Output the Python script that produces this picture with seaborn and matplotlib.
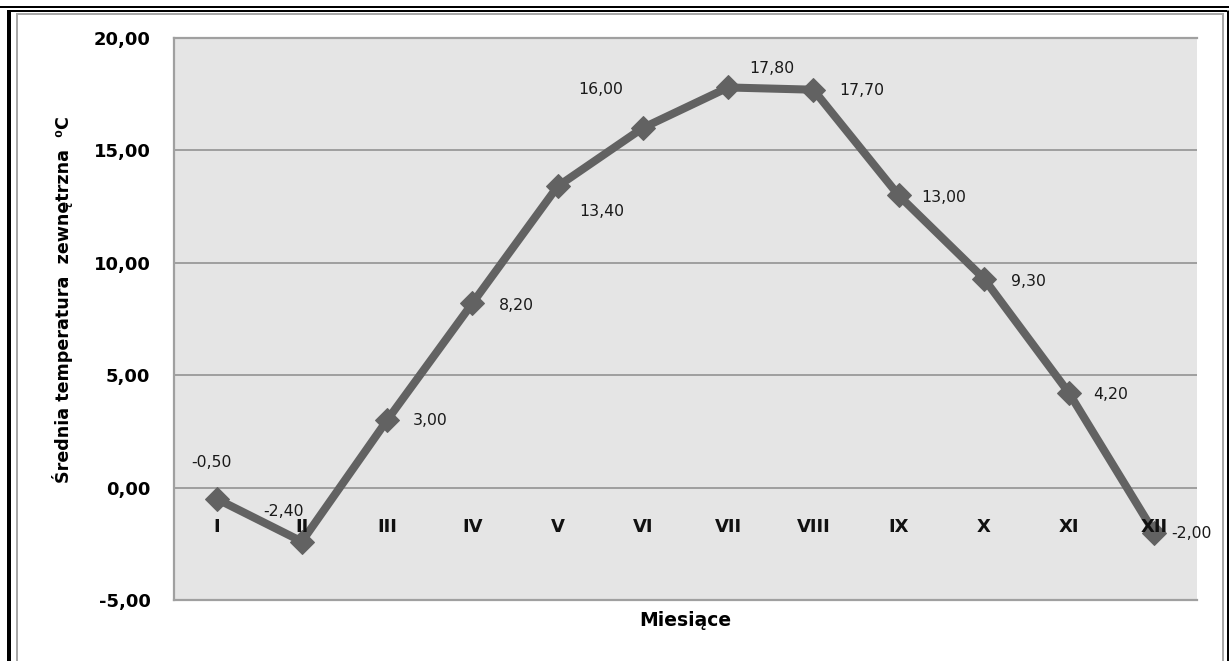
import matplotlib
matplotlib.use("Agg")
import matplotlib.pyplot as plt
import seaborn as sns
import pandas as pd
from matplotlib.lines import Line2D

# Monthly mean outdoor temperature
months = ["I", "II", "III", "IV", "V", "VI", "VII", "VIII", "IX", "X", "XI", "XII"]
temps = [-0.5, -2.4, 3.0, 8.2, 13.4, 16.0, 17.8, 17.7, 13.0, 9.3, 4.2, -2.0]
y_ticks = [-5, 0, 5, 10, 15, 20]

# label placement around each marker (pixel offsets)
label_offsets = [(-5, 36), (-18, 30), (43, 0), (44, -2), (44, -25), (-42, 38),
                 (44, 19), (48, -1), (45, -2), (45, -3), (42, -1), (37, -1)]

W, H = 1229, 661
fig = plt.figure(figsize=(W / 100, H / 100), dpi=100)
fig.patch.set_facecolor("white")

ax = fig.add_axes([174 / W, 1 - 600 / H, (1197 - 174) / W, (600 - 38) / H])
ax.set_facecolor("#e5e5e5")

df = pd.DataFrame({"pos": range(len(months)), "temp": temps})
line_color = "#626262"
sns.lineplot(data=df, x="pos", y="temp", ax=ax, color=line_color, linewidth=5.8,
             marker="D", markersize=12.5, markeredgecolor=line_color,
             markerfacecolor=line_color, zorder=3)

ax.set_xlim(-0.5, len(months) - 0.5)
ax.set_ylim(-5, 20)
ax.set_yticks(y_ticks)
ax.set_yticklabels([f"{v:.2f}".replace(".", ",") for v in y_ticks],
                   fontsize=13, fontweight="bold")
ax.tick_params(axis="y", length=0, pad=17)
ax.set_xticks([])
ax.set_xlabel("")
ax.set_ylabel("")

ax.grid(False)
for v in y_ticks:
    ax.axhline(v, color="#8c8c8c", linewidth=1.1, zorder=1)

for side in ["top", "left", "bottom"]:
    ax.spines[side].set_color("#a0a0a0")
    ax.spines[side].set_linewidth(1.6)
ax.spines["right"].set_visible(False)

# month names sit just below the zero line
for i, m in enumerate(months):
    ax.text(i, -1.75, m, ha="center", va="center", fontsize=13,
            fontweight="bold", color="#111111", zorder=4)

# value labels
for i, (v, off) in enumerate(zip(temps, label_offsets)):
    ax.annotate(f"{v:.2f}".replace(".", ","), xy=(i, v), xytext=off,
                textcoords="offset pixels", ha="center", va="center",
                fontsize=11.3, color="#1a1a1a", zorder=5)

fig.text(685 / W, 1 - 621 / H, "Miesiące", ha="center", va="center",
         fontsize=13.5, fontweight="bold")
fig.text(63 / W, 1 - 300 / H, "Średnia temperatura  zewnętrzna  ⁰C",
         rotation=90, ha="center", va="center", fontsize=12.6, fontweight="bold")

# frame around the whole figure
def px_line(x0, y0, x1, y1, color, lw):
    fig.add_artist(Line2D([x0 / W, x1 / W], [1 - y0 / H, 1 - y1 / H],
                          transform=fig.transFigure, color=color,
                          linewidth=lw * 0.72, solid_capstyle="butt"))

px_line(0, 7, W, 7, "black", 2)
px_line(9, 11, 1227, 11, "black", 2)
px_line(9, 10, 9, H, "black", 4)
px_line(1227.5, 10, 1227.5, H, "black", 3)
px_line(16, 13.5, 1223, 13.5, "#a8a8a8", 2)
px_line(16.5, 13, 16.5, H, "#a8a8a8", 2)
px_line(1222.5, 13, 1222.5, H, "#a8a8a8", 2)

fig.savefig("out.png", dpi=100, facecolor="white")
